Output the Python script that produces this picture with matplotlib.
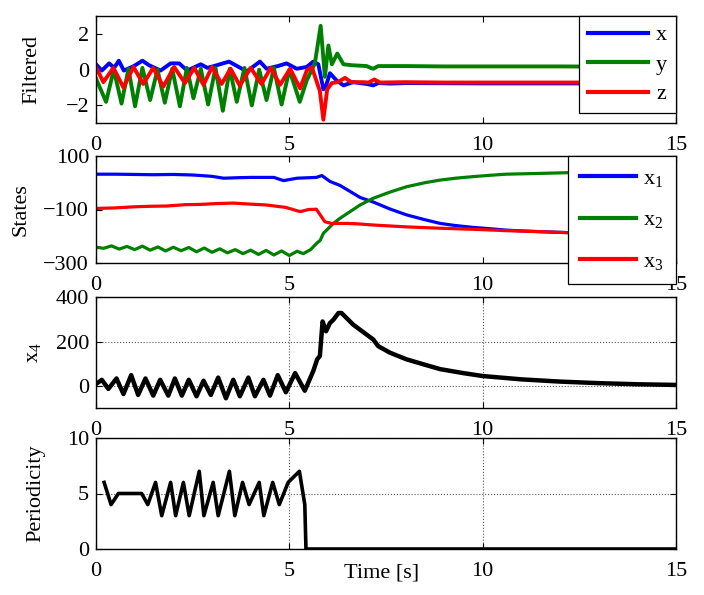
import numpy as np
import matplotlib
matplotlib.use('Agg')
import matplotlib.pyplot as plt

plt.rcParams['font.family'] = ['Liberation Serif', 'DejaVu Serif']
plt.rcParams['font.size'] = 16
plt.rcParams['mathtext.fontset'] = 'custom'
plt.rcParams['mathtext.rm'] = 'Liberation Serif'
plt.rcParams['mathtext.it'] = 'Liberation Serif:italic'

# --- filtered signals (x, y, z) ---
fx_t = [0, 0.15, 0.34, 0.47, 0.59, 0.72, 0.98, 1.2, 1.37, 1.67, 1.93, 2.15, 2.36, 2.71, 2.88,
        3.05, 3.44, 3.65, 3.9, 4.24, 4.41, 4.7, 4.93, 5.19, 5.45, 5.62, 5.75, 5.88, 5.95, 6.05,
        6.22, 6.4, 6.65, 7.0, 7.17, 7.3, 7.6, 8, 9, 10, 11, 12, 13, 14, 15]
fx = [0.3, -0.05, 0.35, 0.1, 0.5, -0.05, 0.2, 0.5, 0.25, -0.05, 0.35, 0.35, -0.05, 0.3, 0.1,
      0.2, 0.45, 0.2, -0.1, 0.45, 0.05, 0.2, 0.35, 0.05, 0.15, 0.45, 0.3, -1.1, -0.9, -0.2,
      -0.6, -0.88, -0.7, -0.8, -0.88, -0.75, -0.78, -0.75, -0.76, -0.77, -0.77, -0.77, -0.77, -0.77, -0.77]

fy_t = [0, 0.26, 0.46, 0.66, 0.84, 1.01, 1.2, 1.40, 1.59, 1.78, 1.97, 2.17, 2.35, 2.52, 2.71,
        2.90, 3.09, 3.28, 3.46, 3.64, 3.84, 4.03, 4.22, 4.41, 4.60, 4.80, 5.0, 5.27, 5.45,
        5.66, 5.81, 5.92, 6.01, 6.1, 6.24, 6.4, 6.6, 7.0, 7.1, 7.17, 7.3, 8, 9, 10, 11, 12,
        13, 14, 15]
fy = [-0.5, -1.8, 0.0, -1.9, 0.05, -2.05, 0.1, -1.7, 0.0, -1.85, 0.05, -2.05, 0.1, -1.6, 0.05,
      -1.95, 0.1, -2.3, 0.05, -1.8, 0.1, -2.0, 0.0, -1.7, 0.1, -1.95, 0.0, -1.8, -0.6,
      0.35, 2.45, -0.4, 1.35, 0.3, 0.9, 0.3, 0.25, 0.2, 0.1, 0.05, 0.2, 0.2, 0.18, 0.18, 0.18, 0.18,
      0.17, 0.17, 0.17]

fz_t = [0, 0.19, 0.45, 0.71, 0.97, 1.22, 1.48, 1.74, 2.02, 2.3, 2.54, 2.78, 3.0, 3.25, 3.48,
        3.72, 4.0, 4.28, 4.52, 4.76, 5.02, 5.28, 5.45, 5.58, 5.79, 5.88, 5.98, 6.1, 6.25, 6.44,
        6.6, 6.9, 7.05, 7.2, 7.35, 8, 9, 10, 11, 12, 13, 14, 15]
fz = [0.15, -0.7, 0.1, -1.0, 0.15, -0.8, 0.1, -0.95, 0.15, -0.75, 0.1, -0.85, 0.15, -0.8, 0.05,
      -0.9, 0.1, -0.8, 0.1, -0.85, 0.05, -1.05, -0.05, 0.15, -1.2, -2.8, -1.1, -0.75, -0.7, -0.46,
      -0.7, -0.7, -0.72, -0.55, -0.72, -0.7, -0.72, -0.72, -0.72, -0.72, -0.72, -0.72, -0.72]

# --- states ---
s1_t = [0, 0.5, 1, 1.5, 2, 2.5, 3.0, 3.3, 3.7, 4.0, 4.6, 4.85, 5.2, 5.7, 5.84, 6.05, 6.31,
        6.6, 6.83, 7.17, 7.6, 8.03, 8.5, 8.9, 9.3, 9.76, 10.2, 10.6, 11.0, 11.5, 12.3, 13, 14, 15]
s1 = [32, 32, 31, 30, 31, 29, 24, 17, 19, 20, 20, 8, 17, 20, 27, 5, -10, -35, -55, -72, -98,
      -120, -138, -152, -160, -167, -172, -177, -180, -183, -187, -189, -191, -192]

s2_t = [0, 0.2, 0.4, 0.6, 0.8, 1.0, 1.2, 1.4, 1.6, 1.8, 2.0, 2.2, 2.4, 2.6, 2.8, 3.0, 3.2, 3.4,
        3.6, 3.8, 4.0, 4.2, 4.4, 4.6, 4.8, 5.0, 5.2, 5.36, 5.55, 5.71, 5.8, 5.88, 6.14, 6.31,
        6.57, 6.83, 7.17, 7.6, 8.03, 8.5, 8.9, 9.3, 9.76, 10.2, 10.6, 11.5, 12.3, 13, 14, 15]
s2 = [-241, -245, -236, -248, -238, -250, -237, -252, -240, -255, -241, -254, -242, -258, -244,
      -260, -247, -262, -250, -265, -252, -268, -253, -270, -255, -272, -256, -265, -250, -226,
      -215, -189, -152, -133, -108, -83, -58, -35, -15, 0, 10, 17, 23, 28, 32, 35, 38, 41, 44, 46]

s3_t = [0, 0.5, 0.97, 1.4, 1.83, 2.3, 2.69, 3.1, 3.55, 4.0, 4.4, 4.9, 5.28, 5.5, 5.7, 5.92,
        6.1, 6.5, 6.8, 7.17, 8.03, 8.9, 9.76, 10.6, 11.5, 12.3, 13, 14, 15]
s3 = [-96, -94, -90, -88, -87, -82, -81, -78, -76, -80, -83, -92, -108, -100, -99, -146,
      -152, -152, -154, -158, -165, -170, -174, -179, -183, -187, -189, -191, -192]

# --- x4 ---
x4_t = [0, 0.15, 0.32, 0.53, 0.71, 0.91, 1.09, 1.28, 1.48, 1.66, 1.87, 2.04, 2.22, 2.40, 2.60,
        2.78, 2.97, 3.16, 3.36, 3.55, 3.72, 3.94, 4.11, 4.33, 4.50, 4.70, 4.91, 5.15, 5.40, 5.62,
        5.72, 5.79, 5.86, 5.95, 6.05, 6.14, 6.27, 6.35, 6.65, 7.0, 7.17, 7.30, 7.60, 8.03, 8.46,
        8.90, 9.5, 10, 11, 12, 13, 14, 15]
x4 = [9, 28, -13, 34, -36, 49, -40, 34, -43, 28, -43, 34, -43, 28, -46, 24, -40, 38, -55, 28,
      -46, 38, -46, 28, -43, 49, -28, 58, -21, 68, 120, 135, 290, 246, 283, 298, 328, 328, 276,
      231, 209, 179, 150, 120, 98, 76, 58, 45, 30, 20, 13, 8, 5]

# --- periodicity ---
per_t = [0.21, 0.39, 0.58, 1.18, 1.34, 1.54, 1.70, 1.93, 2.06, 2.26, 2.41, 2.67, 2.79, 3.03,
         3.16, 3.45, 3.59, 3.79, 3.96, 4.22, 4.34, 4.57, 4.74, 4.97, 5.26, 5.40, 5.43, 15]
per = [6, 4, 5, 5, 4, 6, 3, 6, 3, 6, 3, 7, 3, 6, 3, 7, 3, 6, 4, 6, 3, 6, 4, 6, 7, 4, 0, 0]

blue, green, red = (0, 0, 1), (0, 0.5, 0), (1, 0, 0)

fig = plt.figure(figsize=(7.04, 5.95), dpi=100)
left, width = 96 / 704, 580 / 704
ax1 = fig.add_axes([left, 1 - 123.3 / 595, width, 107.3 / 595])
ax2 = fig.add_axes([left, 1 - 263 / 595, width, 107 / 595])
ax3 = fig.add_axes([left, 1 - 408.3 / 595, width, 111.3 / 595])
ax4 = fig.add_axes([left, 1 - 549 / 595, width, 111 / 595])

ax1.plot(fx_t, fx, color=blue, lw=2.8, label='x', solid_joinstyle='round')
ax1.plot(fy_t, fy, color=green, lw=2.8, label='y', solid_joinstyle='round')
ax1.plot(fz_t, fz, color=red, lw=2.8, label='z', solid_joinstyle='round')
ax1.set_ylim(-3, 3)
ax1.set_yticks([-2, 0, 2])
ax1.set_ylabel('Filtered')
ax1.yaxis.set_label_coords(-0.095, 0.5)

ax2.plot(s1_t, s1, color=blue, lw=2.3, label=r'$\mathrm{x}_1$')
ax2.plot(s2_t, s2, color=green, lw=2.3, label=r'$\mathrm{x}_2$')
ax2.plot(s3_t, s3, color=red, lw=2.3, label=r'$\mathrm{x}_3$')
ax2.set_ylim(-300, 100)
ax2.set_yticks([-300, -100, 100])
ax2.set_ylabel('States')
ax2.yaxis.set_label_coords(-0.113, 0.5)

ax3.plot(x4_t, x4, color='k', lw=3.2, solid_joinstyle='round')
ax3.set_ylim(-100, 400)
ax3.set_yticks([0, 200, 400])
ax3.set_ylabel(r'$\mathrm{x}_4$')
ax3.yaxis.set_label_coords(-0.091, 0.5)

ax4.plot(per_t, per, color='k', lw=2.6)
ax4.set_ylim(0, 10)
ax4.set_yticks([0, 5, 10])
ax4.set_ylabel('Periodicity')
ax4.yaxis.set_label_coords(-0.088, 0.5)
ax4.set_xlabel('Time [s]')
ax4.xaxis.set_label_coords(0.493, -0.135)

for ax in (ax1, ax2, ax3, ax4):
    ax.set_xlim(0, 15)
    ax.set_xticks([0, 5, 10, 15])
    ax.tick_params(direction='in', top=True, right=True, length=4, width=0.8)
    ax.tick_params(axis='x', pad=9)
    ax.tick_params(axis='y', pad=5)
    for s in ax.spines.values():
        s.set_linewidth(1.0)

for ax in (ax3, ax4):
    ax.grid(True, linestyle=':', color='0.35', linewidth=0.8)

for ax, spacing, bpad, hlen in ((ax1, 0.4, 0.4, 2.7), (ax2, 0.95, 0.55, 2.5)):
    leg = ax.legend(loc='upper right', bbox_to_anchor=(1, 1), borderaxespad=0,
                    fancybox=False, framealpha=1, edgecolor='k', handlelength=hlen,
                    handletextpad=0.35, labelspacing=spacing, borderpad=bpad)
    leg.get_frame().set_linewidth(0.9)
    for line in leg.get_lines():
        line.set_linewidth(3)

fig.savefig('out.png', dpi=100)
